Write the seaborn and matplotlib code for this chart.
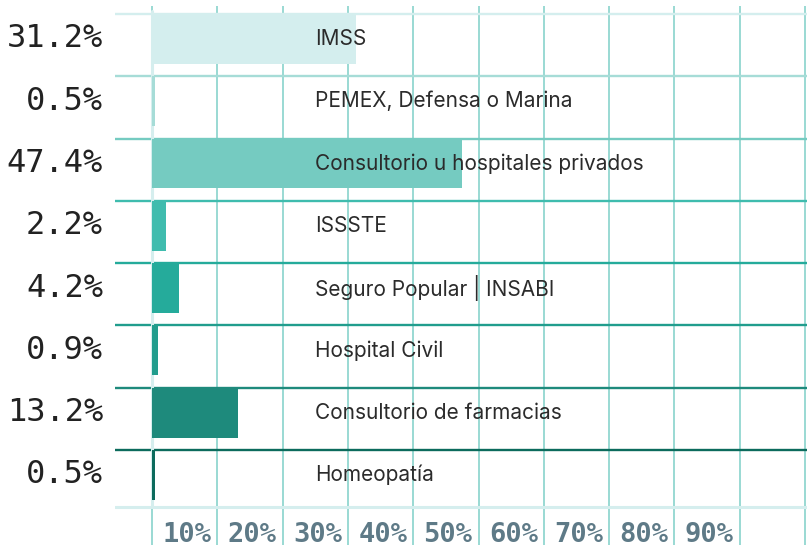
import matplotlib
matplotlib.use("Agg")
import matplotlib.pyplot as plt
import seaborn as sns
import pandas as pd

# donnees
categorias = ["IMSS", "PEMEX, Defensa o Marina", "Consultorio u hospitales privados",
              "ISSSTE", "Seguro Popular | INSABI", "Hospital Civil",
              "Consultorio de farmacias", "Homeopatía"]
porcentajes = [31.2, 0.5, 47.4, 2.2, 4.2, 0.9, 13.2, 0.5]
etiquetas_x = ["10%", "20%", "30%", "40%", "50%", "60%", "70%", "80%", "90%"]
posiciones_x = [10, 20, 30, 40, 50, 60, 70, 80, 90]

colores = ["#d4eeee", "#a6dcd7", "#75cbc1", "#3fbcae",
           "#25ab9b", "#219d8d", "#1e8a7c", "#0c6b5d"]

df = pd.DataFrame({"cat": categorias, "pct": porcentajes})

sns.set_style("white")

fig = plt.figure(figsize=(8.07, 5.53), dpi=100)
ax = fig.add_axes([115 / 807, (553 - 545) / 553, (807 - 115) / 807, (545 - 6) / 553])

# grille verticale (derriere les barres)
for v in range(0, 101, 10):
    ax.axvline(v, color="#7fd0c7", lw=1.1, zorder=0)

sns.barplot(data=df, x="pct", y="cat", hue="cat", palette=colores, legend=False,
            width=0.8, saturation=1, orient="h", ax=ax, zorder=2, linewidth=0)

# lignes horizontales de chaque rangee
for i, c in enumerate(colores):
    ax.axhline(i - 0.4, color=c, lw=1.7, zorder=1)
ax.axhline(7.51, color="#d5eeee", lw=2.2, zorder=1)
ax.plot([0, 0], [-0.45, 7.51], color="#d5eeee", lw=2.2, zorder=1)

ax.set_xlim(-5.67, 100.3)
ax.set_ylim(8.125, -0.528)

for i, (c, p) in enumerate(zip(categorias, porcentajes)):
    ax.text(25, i, c, va="center", ha="left", fontsize=15, family="Inter",
            color="#2b2b2b", zorder=3)
    ax.text(-7.5, i, f"{p}%", va="center", ha="right", fontsize=23,
            family="DejaVu Sans Mono", color="#222222", clip_on=False)

for xp, lab in zip(posiciones_x, etiquetas_x):
    ax.text(xp - 0.9, 7.96, lab, va="center", ha="right", fontsize=19.5,
            family="DejaVu Sans Mono", color="#5e7a87", fontweight="bold")

ax.set_xticks([])
ax.set_yticks([])
ax.set_xlabel("")
ax.set_ylabel("")
for s in ax.spines.values():
    s.set_visible(False)

fig.savefig("out.png", dpi=100)
